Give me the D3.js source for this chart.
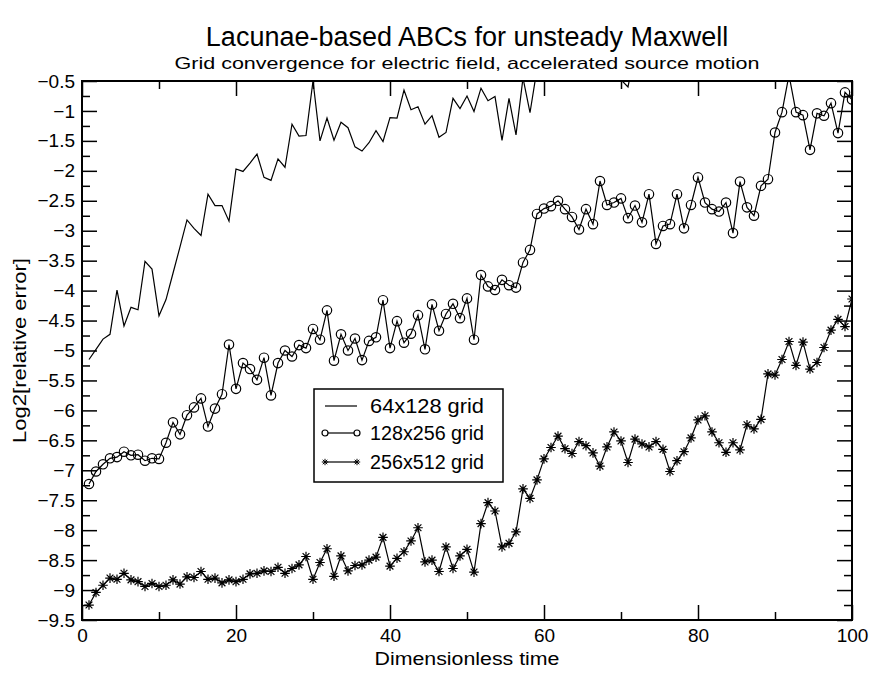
<!DOCTYPE html>
<html>
<head>
<meta charset="utf-8">
<script src="https://cdn.jsdelivr.net/npm/d3@7"></script>
<style>
  html, body { margin: 0; padding: 0; background: #fff; }
  svg text { font-family: "Liberation Sans", Arial, Helvetica, sans-serif; fill: #000; }
</style>
</head>
<body>
<svg id="chart" width="874" height="673"></svg>
<script>
// ---------------- data ----------------
const title = "Lacunae-based ABCs for unsteady Maxwell";
const subtitle = "Grid convergence for electric field, accelerated source motion";
const xLabel = "Dimensionless time";
const yLabel = "Log2[relative error]";
const seriesNames = ["64x128 grid", "128x256 grid", "256x512 grid"];

const nSteps = 110;      // samples t = k*100/110, k = 1..110
const tEnd = 100;

const xTicks = [0, 20, 40, 60, 80, 100];
const yTicks = [-9.5, -9, -8.5, -8, -7.5, -7, -6.5, -6, -5.5, -5, -4.5, -4, -3.5, -3, -2.5, -2, -1.5, -1, -0.5];

const grid64 = [
  -5.15, -4.98, -4.81, -4.73, -3.99, -4.59, -4.28, -4.32, -3.51, -3.64,
  -4.42, -4.15, -3.71, -3.27, -2.82, -2.96, -3.08, -2.39, -2.58, -2.58,
  -2.84, -1.97, -2.01, -1.87, -1.72, -2.11, -2.16, -1.80, -1.94, -1.22,
  -1.42, -1.41, -0.50, -1.50, -1.12, -1.49, -1.19, -1.28, -1.60, -1.67,
  -1.53, -1.33, -1.51, -1.11, -1.12, -0.65, -0.98, -0.93, -1.22, -1.08,
  -1.44, -1.36, -0.79, -0.96, -0.75, -1.01, -0.62, -0.83, -0.76, -1.49,
  -0.79, -1.40, -0.45, -1.03, -0.30, -0.10, -0.22, 0.05, -0.15, 0.10,
  -0.05, 0.12, -0.12, 0.02, -0.18, -0.08, -0.48, -0.60, 0.00, 0.15,
  -0.05, 0.20, 0.05, 0.25, 0.10, 0.30, 0.12, 0.28, 0.18, 0.35,
  0.20, 0.40, 0.25, 0.45, 0.30, 0.50, 0.35, 0.55, 0.40, 0.60,
  0.45, 0.62, 0.50, 0.68, 0.55, 0.72, 0.60, 0.78, 0.65, 0.80
];

const grid128 = [
  -7.23, -7.02, -6.90, -6.80, -6.78, -6.69, -6.75, -6.74, -6.84, -6.80,
  -6.81, -6.54, -6.20, -6.40, -6.08, -5.95, -5.80, -6.27, -5.97, -5.73,
  -4.90, -5.64, -5.21, -5.31, -5.49, -5.12, -5.75, -5.21, -5.00, -5.10,
  -4.91, -4.96, -4.64, -4.82, -4.33, -5.17, -4.73, -5.00, -4.80, -5.16,
  -4.84, -4.78, -4.16, -4.96, -4.51, -4.87, -4.72, -4.41, -4.98, -4.23,
  -4.67, -4.39, -4.22, -4.46, -4.13, -4.82, -3.74, -3.93, -3.99, -3.82,
  -3.91, -3.95, -3.53, -3.32, -2.72, -2.63, -2.59, -2.50, -2.64, -2.77,
  -2.98, -2.64, -2.89, -2.17, -2.57, -2.53, -2.46, -2.79, -2.58, -2.86,
  -2.39, -3.22, -2.92, -2.89, -2.39, -2.96, -2.57, -2.11, -2.53, -2.64,
  -2.68, -2.53, -3.04, -2.18, -2.61, -2.75, -2.25, -2.14, -1.36, -1.02,
  -0.40, -1.02, -1.07, -1.65, -1.04, -1.08, -0.87, -1.37, -0.69, -0.81
];

const grid256 = [
  -9.25, -9.04, -8.92, -8.80, -8.82, -8.72, -8.83, -8.86, -8.94, -8.89,
  -8.94, -8.92, -8.83, -8.90, -8.78, -8.79, -8.69, -8.82, -8.80, -8.88,
  -8.83, -8.86, -8.82, -8.73, -8.72, -8.68, -8.69, -8.62, -8.72, -8.64,
  -8.58, -8.44, -8.82, -8.54, -8.31, -8.77, -8.43, -8.68, -8.59, -8.58,
  -8.50, -8.45, -8.12, -8.60, -8.47, -8.36, -8.18, -7.96, -8.53, -8.50,
  -8.69, -8.28, -8.64, -8.43, -8.32, -8.70, -7.89, -7.54, -7.68, -8.28,
  -8.22, -8.03, -7.31, -7.47, -7.16, -6.81, -6.62, -6.43, -6.64, -6.72,
  -6.52, -6.59, -6.71, -6.93, -6.61, -6.36, -6.51, -6.87, -6.48, -6.56,
  -6.61, -6.52, -6.65, -7.02, -6.84, -6.69, -6.46, -6.16, -6.09, -6.36,
  -6.54, -6.70, -6.54, -6.66, -6.24, -6.31, -6.15, -5.39, -5.41, -5.15,
  -4.85, -5.25, -4.86, -5.31, -5.20, -4.95, -4.66, -4.48, -4.60, -4.14
];

// ---------------- layout ----------------
const svg = d3.select("#chart");
const margin = { left: 82, top: 81, right: 22, bottom: 53 };
const W = 874, H = 673;
const pw = W - margin.left - margin.right;   // 770
const ph = H - margin.top - margin.bottom;   // 539

const x = d3.scaleLinear().domain([0, tEnd]).range([0, pw]);
const y = d3.scaleLinear().domain([-9.5, -0.5]).range([ph, 0]);

const times = d3.range(1, nSteps + 1).map(k => k * tEnd / nSteps);
const toPts = vals => vals.map((v, i) => [times[i], v]);

const g = svg.append("g").attr("transform", `translate(${margin.left},${margin.top})`);

svg.append("defs").append("clipPath").attr("id", "clip")
  .append("rect").attr("x", 0).attr("y", 0).attr("width", pw).attr("height", ph);

// titles
svg.append("text").attr("x", margin.left + pw / 2).attr("y", 46)
  .attr("text-anchor", "middle").attr("font-size", 27).text(title);
svg.append("text").attr("x", margin.left + pw / 2).attr("y", 69)
  .attr("text-anchor", "middle").attr("font-size", 17).attr("textLength", 585)
  .attr("lengthAdjust", "spacingAndGlyphs").text(subtitle);

// axes (ticks pointing inward on all four sides)
const xMinor = [10, 30, 50, 70, 90];
const yMinor = d3.range(-9.25, -0.5, 0.5);
const majLen = 15, minLen = 8;

function styleAxis(sel) {
  sel.select(".domain").remove();
  sel.selectAll(".tick line").attr("stroke", "#000").attr("stroke-width", 1.5);
  sel.selectAll(".tick text").attr("font-size", 19).attr("fill", "#000")
    .attr("font-family", '"Liberation Sans", Arial, sans-serif');
}

g.append("g").attr("transform", `translate(0,${ph})`)
  .call(d3.axisBottom(x).tickValues(xTicks).tickSize(-majLen).tickPadding(9).tickFormat(d3.format("d")))
  .call(styleAxis);
g.append("g").attr("transform", `translate(0,${ph})`)
  .call(d3.axisBottom(x).tickValues(xMinor).tickSize(-minLen).tickFormat(""))
  .call(styleAxis);
g.append("g")
  .call(d3.axisTop(x).tickValues(xTicks).tickSize(-majLen).tickFormat(""))
  .call(styleAxis);
g.append("g")
  .call(d3.axisTop(x).tickValues(xMinor).tickSize(-minLen).tickFormat(""))
  .call(styleAxis);

g.append("g")
  .call(d3.axisLeft(y).tickValues(yTicks).tickSize(-majLen).tickPadding(7).tickFormat(d => d3.format("")(d)))
  .call(styleAxis);
g.append("g")
  .call(d3.axisLeft(y).tickValues(yMinor).tickSize(-minLen).tickFormat(""))
  .call(styleAxis);
g.append("g").attr("transform", `translate(${pw},0)`)
  .call(d3.axisRight(y).tickValues(yTicks).tickSize(-majLen).tickFormat(""))
  .call(styleAxis);
g.append("g").attr("transform", `translate(${pw},0)`)
  .call(d3.axisRight(y).tickValues(yMinor).tickSize(-minLen).tickFormat(""))
  .call(styleAxis);

// axis labels
svg.append("text").attr("x", margin.left + pw / 2).attr("y", 665)
  .attr("text-anchor", "middle").attr("font-size", 18).attr("textLength", 185)
  .attr("lengthAdjust", "spacingAndGlyphs").text(xLabel);
svg.append("text").attr("transform", `translate(26,${margin.top + ph / 2}) rotate(-90)`)
  .attr("text-anchor", "middle").attr("font-size", 18).attr("textLength", 185)
  .attr("lengthAdjust", "spacingAndGlyphs").text(yLabel);

// data
const plot = g.append("g").attr("clip-path", "url(#clip)");
const line = d3.line().x(d => x(d[0])).y(d => y(d[1]));

function starPath(s) {
  const d = s * Math.SQRT1_2;
  return `M${-s},0L${s},0M0,${-s}L0,${s}M${-d},${-d}L${d},${d}M${-d},${d}L${d},${-d}`;
}

[grid64, grid128, grid256].forEach(vals => {
  plot.append("path").datum(toPts(vals)).attr("d", line)
    .attr("fill", "none").attr("stroke", "#000").attr("stroke-width", 1.2);
});

plot.append("g").selectAll("circle").data(toPts(grid128)).join("circle")
  .attr("cx", d => x(d[0])).attr("cy", d => y(d[1])).attr("r", 4.7)
  .attr("fill", "none").attr("stroke", "#000").attr("stroke-width", 1.2);

plot.append("g").selectAll("path").data(toPts(grid256)).join("path")
  .attr("transform", d => `translate(${x(d[0])},${y(d[1])})`)
  .attr("d", starPath(4.8)).attr("fill", "none").attr("stroke", "#000").attr("stroke-width", 1.2);

// frame
g.append("rect").attr("x", 0).attr("y", 0).attr("width", pw).attr("height", ph)
  .attr("fill", "none").attr("stroke", "#000").attr("stroke-width", 2);

// legend
const lg = svg.append("g").attr("transform", "translate(314,389)");
lg.append("rect").attr("x", 0).attr("y", 0).attr("width", 189).attr("height", 93)
  .attr("fill", "#fff").attr("stroke", "#000").attr("stroke-width", 1.5);
const rows = [17, 44, 73];
seriesNames.forEach((name, i) => {
  const ry = rows[i];
  lg.append("line").attr("x1", 11).attr("x2", 43).attr("y1", ry).attr("y2", ry)
    .attr("stroke", "#000").attr("stroke-width", 1.2);
  if (i === 1) {
    [11, 43].forEach(cx => lg.append("circle").attr("cx", cx).attr("cy", ry).attr("r", 3)
      .attr("fill", "#fff").attr("stroke", "#000").attr("stroke-width", 1.2));
  }
  if (i === 2) {
    [11, 43].forEach(cx => lg.append("path").attr("transform", `translate(${cx},${ry})`)
      .attr("d", starPath(3.2)).attr("stroke", "#000").attr("stroke-width", 1));
  }
  lg.append("text").attr("x", 56).attr("y", ry).attr("dy", "0.35em")
    .attr("font-size", 20).attr("textLength", 114)
    .attr("lengthAdjust", "spacingAndGlyphs").text(name);
});
</script>
</body>
</html>
